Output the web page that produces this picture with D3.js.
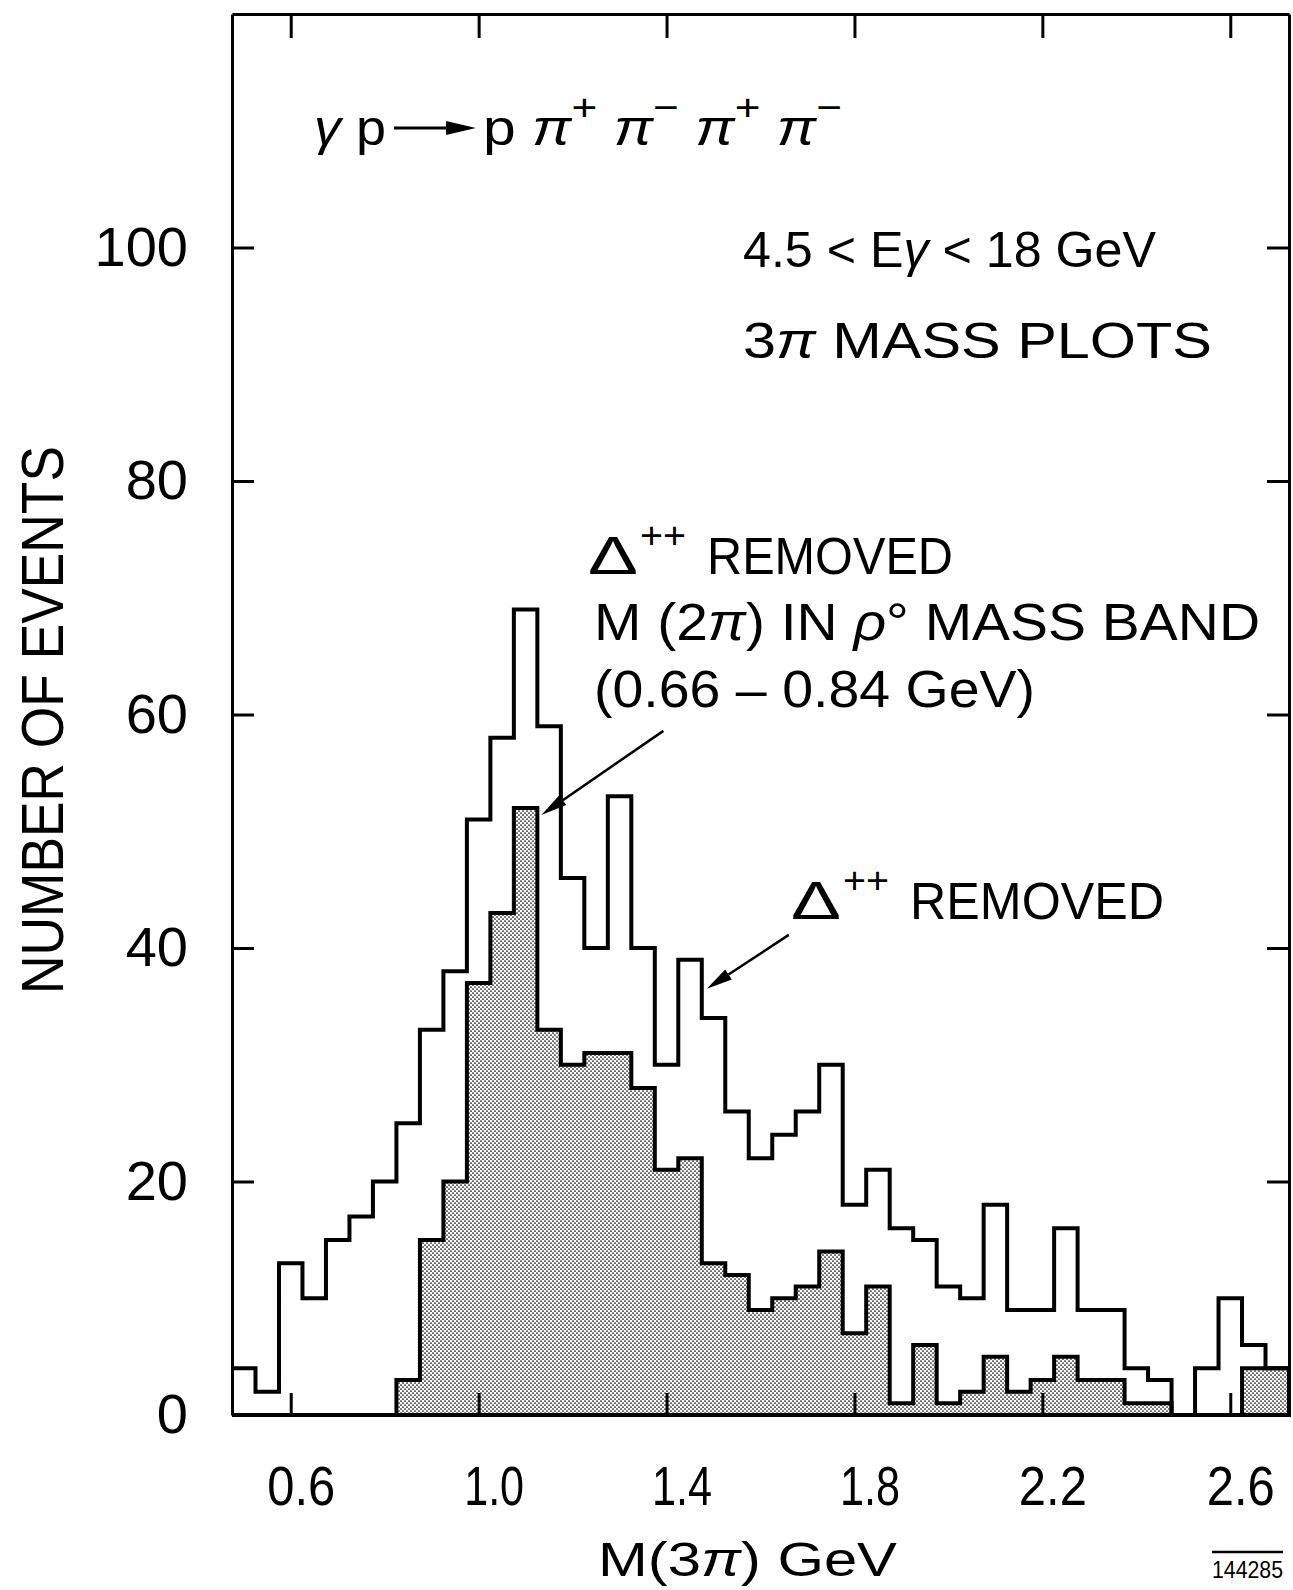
<!DOCTYPE html>
<html>
<head>
<meta charset="utf-8">
<script src="https://cdn.jsdelivr.net/npm/d3@7"></script>
<style>
body { margin: 0; background: #fff; }
svg { display: block; }
text { font-family: "Liberation Sans", Arial, sans-serif; fill: #000; }
</style>
</head>
<body>
<script>
let width = 1293
let height = 1590

// bin centres in GeV, bins are 0.05 wide
let mass = [0.50, 0.55, 0.60, 0.65, 0.70, 0.75, 0.80, 0.85, 0.90, 0.95,
  1.00, 1.05, 1.10, 1.15, 1.20, 1.25, 1.30, 1.35, 1.40, 1.45,
  1.50, 1.55, 1.60, 1.65, 1.70, 1.75, 1.80, 1.85, 1.90, 1.95,
  2.00, 2.05, 2.10, 2.15, 2.20, 2.25, 2.30, 2.35, 2.40, 2.45,
  2.50, 2.55, 2.60, 2.65, 2.70]
let binWidth = 0.05

// open histogram: delta++ removed
let removedDelta = [4, 2, 13, 10, 15, 17, 20, 25, 33, 38,
  51, 58, 69, 59, 46, 40, 53, 40, 30, 39,
  34, 26, 22, 24, 26, 30, 18, 21, 16, 15,
  11, 10, 18, 9, 9, 16, 9, 9, 4, 3,
  0, 4, 10, 6, 4]

// shaded histogram: delta++ removed and M(2pi) in rho band
let rhoBand = [0, 0, 0, 0, 0, 0, 0, 3, 15, 20,
  37, 43, 52, 33, 30, 31, 31, 28, 21, 22,
  13, 12, 9, 10, 11, 14, 7, 11, 1, 6,
  1, 2, 5, 2, 3, 5, 3, 3, 1, 1,
  0, 0, 0, 4, 4]

let xTicks = [0.6, 1.0, 1.4, 1.8, 2.2, 2.6]
let yTicks = [0, 20, 40, 60, 80, 100]

let svg = d3.select('body').append('svg')
  .attr('width', width)
  .attr('height', height)

let defs = svg.append('defs')
let pat = defs.append('pattern')
  .attr('id', 'dots')
  .attr('patternUnits', 'userSpaceOnUse')
  .attr('width', 4)
  .attr('height', 4)
pat.append('rect').attr('width', 4).attr('height', 4).attr('fill', '#fff')
pat.append('circle').attr('cx', 1).attr('cy', 1).attr('r', 0.85).attr('fill', '#000')
pat.append('circle').attr('cx', 3).attr('cy', 3).attr('r', 0.85).attr('fill', '#000')

let x = d3.scaleLinear().domain([0.475, 2.725]).range([232, 1289])
let y = d3.scaleLinear().domain([0, 120]).range([1415, 14])

function steps(values) {
  let pts = []
  values.forEach(function(v, i) {
    pts.push([x(mass[i] - binWidth / 2), y(v)])
    pts.push([x(mass[i] + binWidth / 2), y(v)])
  })
  return pts
}

let line = d3.line()

// shaded histogram
let shaded = steps(rhoBand)
shaded.unshift([x(mass[0] - binWidth / 2), y(0)])
shaded.push([x(mass[mass.length - 1] + binWidth / 2), y(0)])
svg.append('path')
  .attr('d', line(shaded) + 'Z')
  .attr('fill', 'url(#dots)')
  .attr('stroke', '#000')
  .attr('stroke-width', 4)
  .attr('stroke-linejoin', 'miter')

// open histogram
svg.append('path')
  .attr('d', line(steps(removedDelta)))
  .attr('fill', 'none')
  .attr('stroke', '#000')
  .attr('stroke-width', 4)
  .attr('stroke-linejoin', 'miter')

// frame + ticks
function styleAxis(g) {
  g.attr('font-family', '"Liberation Sans", Arial, sans-serif').attr('font-size', 56)
  g.select('.domain').attr('stroke-width', 3)
  g.selectAll('.tick line').attr('stroke-width', 3)
}

let fmt = d3.format('.1f')
svg.append('g')
  .attr('transform', 'translate(0,' + y(0) + ')')
  .call(d3.axisBottom(x).tickValues(xTicks).tickSize(-22).tickSizeOuter(0).tickPadding(50).tickFormat(fmt))
  .call(styleAxis)
  .selectAll('.tick text')
  .attr('dx', function(d) { return d >= 1 && d < 2 ? 15 : 10 })
  .attr('textLength', function(d) { return d >= 1 && d < 2 ? 60 : 68 })
  .attr('lengthAdjust', 'spacingAndGlyphs')

svg.append('g')
  .attr('transform', 'translate(0,' + y(120) + ')')
  .call(d3.axisTop(x).tickValues(xTicks).tickSize(-24).tickSizeOuter(0).tickFormat(''))
  .call(styleAxis)

svg.append('g')
  .attr('transform', 'translate(' + x(0.475) + ',0)')
  .call(d3.axisLeft(y).tickValues(yTicks).tickSize(-22).tickSizeOuter(0).tickPadding(44))
  .call(styleAxis)

svg.append('g')
  .attr('transform', 'translate(' + x(2.725) + ',0)')
  .call(d3.axisRight(y).tickValues(yTicks.slice(1)).tickSize(-22).tickSizeOuter(0).tickFormat(''))
  .call(styleAxis)

// text helper: parts are {t, sup, it}
function label(px, py, size, len, parts, supScale) {
  supScale = supScale || 0.6
  let t = svg.append('text').attr('x', px).attr('y', py).attr('font-size', size)
  if (len) t.attr('textLength', len).attr('lengthAdjust', 'spacingAndGlyphs')
  let shift = 0
  parts.forEach(function(p) {
    let s = t.append('tspan').text(p.t)
    let target = p.sup ? -size * 0.5 : 0
    if (target !== shift) s.attr('dy', target - shift)
    shift = target
    if (p.sup) s.attr('font-size', size * supScale)
    if (p.it) s.attr('font-style', 'italic')
  })
  return t
}

function arrow(tail, tip, headLen, headW, sw) {
  let dx = tip[0] - tail[0]
  let dy = tip[1] - tail[1]
  let len = Math.hypot(dx, dy)
  let ux = dx / len, uy = dy / len
  let bx = tip[0] - ux * headLen, by = tip[1] - uy * headLen
  svg.append('line')
    .attr('x1', tail[0]).attr('y1', tail[1])
    .attr('x2', bx).attr('y2', by)
    .attr('stroke', '#000').attr('stroke-width', sw)
  svg.append('path')
    .attr('d', 'M' + tip[0] + ',' + tip[1] +
      'L' + (bx - uy * headW) + ',' + (by + ux * headW) +
      'L' + (bx + uy * headW) + ',' + (by - ux * headW) + 'Z')
    .attr('fill', '#000')
}

// reaction
label(314, 145, 50, 72, [{ t: 'γ', it: true }, { t: ' p' }])
arrow([394, 128], [476, 128], 30, 7, 3)
label(483, 145, 50, 359, [
  { t: 'p ' }, { t: 'π', it: true }, { t: '+', sup: true },
  { t: ' π', it: true }, { t: '−', sup: true },
  { t: ' π', it: true }, { t: '+', sup: true },
  { t: ' π', it: true }, { t: '−', sup: true }
], 0.75)

label(743, 267, 50, 413, [{ t: '4.5 < E' }, { t: 'γ', it: true }, { t: ' < 18 GeV' }])
label(743, 358, 50, 469, [{ t: '3' }, { t: 'π', it: true }, { t: '  MASS  PLOTS' }])

// delta labels: triangle, superscript and word set apart as in the original
function deltaLabel(px, py, wordX, wordLen) {
  svg.append('text').attr('x', px).attr('y', py).attr('font-size', 54)
    .attr('textLength', 50).attr('lengthAdjust', 'spacingAndGlyphs').text('Δ')
  svg.append('text').attr('x', px + 52).attr('y', py - 26).attr('font-size', 36)
    .attr('textLength', 46).attr('lengthAdjust', 'spacingAndGlyphs').text('++')
  svg.append('text').attr('x', wordX).attr('y', py).attr('font-size', 52)
    .attr('textLength', wordLen).attr('lengthAdjust', 'spacingAndGlyphs').text('REMOVED')
}
deltaLabel(588, 574, 707, 246)
label(594, 640, 52, 666, [{ t: 'M (2' }, { t: 'π', it: true }, { t: ') IN ' }, { t: 'ρ', it: true }, { t: '° MASS BAND' }])
label(594, 707, 52, 441, [{ t: '(0.66 – 0.84 GeV)' }])
deltaLabel(791, 919, 910, 254)

// arrows to the histograms
let tip1 = [x(1.125) + 4, y(52) + 7]
arrow([tip1[0] + 122, tip1[1] - 84], tip1, 26, 6, 2.5)
let tip2 = [x(1.475) + 5, y(36.5)]
arrow([tip2[0] + 82, tip2[1] - 54], tip2, 26, 6, 2.5)

// axis titles
svg.append('text')
  .attr('transform', 'translate(63,720) rotate(-90)')
  .attr('text-anchor', 'middle')
  .attr('font-size', 60)
  .attr('textLength', 548)
  .attr('lengthAdjust', 'spacingAndGlyphs')
  .text('NUMBER OF EVENTS')

label(598, 1576, 48, 299, [{ t: 'M(3' }, { t: 'π', it: true }, { t: ') GeV' }])

label(1212, 1578, 24, 71, [{ t: '144285' }])
svg.append('line')
  .attr('x1', 1212).attr('x2', 1283)
  .attr('y1', 1552).attr('y2', 1552)
  .attr('stroke', '#000').attr('stroke-width', 2.5)
</script>
</body>
</html>
